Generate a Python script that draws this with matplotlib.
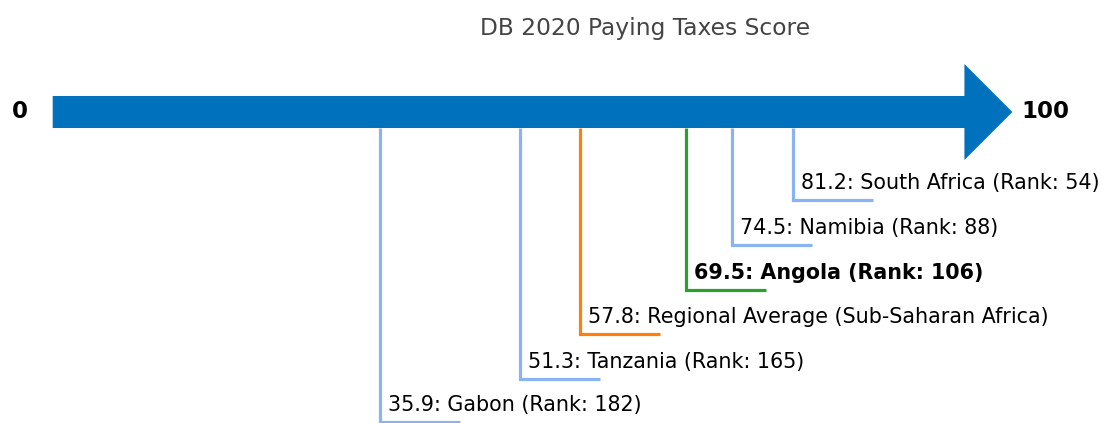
import matplotlib
matplotlib.use("Agg")
import matplotlib.pyplot as plt
import matplotlib.patches as patches

# scores
names = ["South Africa", "Namibia", "Angola", "Regional Average (Sub-Saharan Africa)", "Tanzania", "Gabon"]
scores = [81.2, 74.5, 69.5, 57.8, 51.3, 35.9]
ranks = [54, 88, 106, None, 165, 182]
kinds = ["peer", "peer", "focus", "region", "peer", "peer"]

colors = {"peer": "#8ab4f0", "focus": "#2ca02c", "region": "#ff7f0e"}
levels = [200, 245, 290, 334, 379, 422.5]  # pixel rows of each leader line

W, H = 1103, 423
fig = plt.figure(figsize=(W / 100, H / 100), dpi=100)
ax = fig.add_axes([0, 0, 1, 1])
px = 9.117  # pixels per score unit
x0 = 52.7
ax.set_xlim(-x0 / px, (W - x0) / px)
ax.set_ylim(H, 0)
ax.axis("off")

# main arrow
head_len = 48 / px
arrow = patches.FancyArrow(0, 112, 100 + head_len, 0, width=32, head_width=96,
                           head_length=head_len, length_includes_head=True,
                           color="#0071bc", linewidth=0)
ax.add_patch(arrow)
ax.text(-3.55, 112, "0", ha="center", va="center", fontsize=16.5, fontweight="bold")
ax.text(100 + head_len + 1.0, 112, "100", ha="left", va="center", fontsize=16.5, fontweight="bold")

seg = 80 / px
for name, s, r, k, lv in zip(names, scores, ranks, kinds, levels):
    c = colors[k]
    ax.plot([s, s, s + seg], [128, lv, lv], color=c, linewidth=2.3, solid_joinstyle="miter",
            solid_capstyle="butt", zorder=1)
    label = f"{s}: {name}" if r is None else f"{s}: {name} (Rank: {r})"
    ax.text(s + 8 / px, lv - 17, label, ha="left", va="center", fontsize=14.9,
            fontweight="bold" if k == "focus" else "normal", color="black")

ax.text(645 / px - x0 / px, 28, "DB 2020 Paying Taxes Score", ha="center", va="center",
        fontsize=16.8, color="#444444")

fig.savefig("out.png", dpi=100)
